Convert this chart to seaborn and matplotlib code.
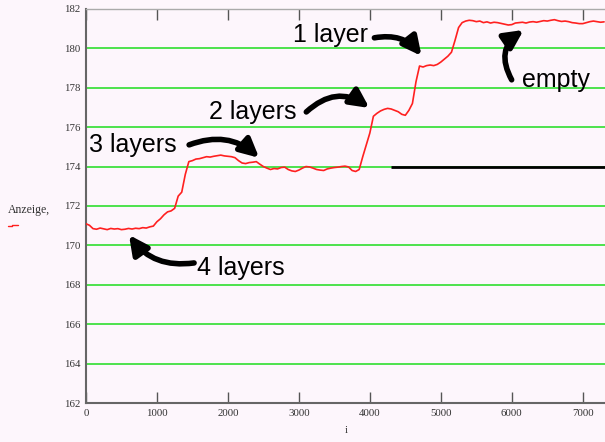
import numpy as np
import pandas as pd
import matplotlib
matplotlib.use("Agg")
import matplotlib.pyplot as plt
from matplotlib.lines import Line2D
import seaborn as sns

# Sample index (every 50 samples) and displayed reading
sample_i = np.arange(0, 7301, 50)
anzeige = [
    171.10, 171.02, 170.85, 170.82, 170.88, 170.84, 170.80, 170.86, 170.83, 170.85,
    170.80, 170.82, 170.86, 170.83, 170.87, 170.85, 170.90, 170.88, 170.94, 170.98,
    171.20, 171.35, 171.55, 171.70, 171.75, 171.88, 172.50, 172.70, 173.60, 174.25,
    174.30, 174.38, 174.40, 174.45, 174.50, 174.48, 174.52, 174.55, 174.58, 174.54,
    174.52, 174.50, 174.45, 174.30, 174.18, 174.15, 174.20, 174.22, 174.25, 174.12,
    174.00, 173.92, 173.85, 173.90, 173.88, 173.95, 173.97, 173.85, 173.78, 173.75,
    173.82, 173.92, 174.00, 173.98, 173.92, 173.85, 173.82, 173.80, 173.88, 173.92,
    173.95, 173.97, 174.00, 174.02, 173.98, 173.80, 173.75, 173.85, 174.50, 175.10,
    175.70, 176.55, 176.70, 176.82, 176.90, 176.95, 176.92, 176.85, 176.78, 176.65,
    176.60, 176.85, 177.20, 178.30, 179.10, 179.05, 179.12, 179.15, 179.12, 179.18,
    179.30, 179.45, 179.60, 179.80, 180.40, 181.05, 181.30, 181.38, 181.42, 181.40,
    181.35, 181.38, 181.30, 181.34, 181.28, 181.32, 181.30, 181.26, 181.22, 181.18,
    181.20, 181.28, 181.30, 181.32, 181.28, 181.33, 181.35, 181.32, 181.36, 181.40,
    181.38, 181.42, 181.45, 181.40, 181.36, 181.38, 181.35, 181.30, 181.28, 181.25,
    181.25, 181.30, 181.35, 181.38, 181.35, 181.32, 181.34,
]

y_ticks = list(range(162, 183, 2))
x_ticks = list(range(0, 7001, 1000))
grid_levels = list(range(164, 181, 2))
reference_level = 174.0
reference_start = 4300

# Annotations: label, label position, arrow tail, arrow tip, curvature
labels = ["1 layer", "2 layers", "3 layers", "4 layers", "empty"]
label_pos = [(2921, 180.68), (1736, 176.77), (42, 175.10), (1566, 168.85), (6140, 178.40)]
arrow_tail = [(4064, 180.53), (3105, 176.77), (1454, 175.10), (1524, 169.11), (5998, 178.40)]
arrow_tip = [(4728, 179.61), (3994, 176.97), (2441, 174.44), (607, 170.53), (6167, 180.93)]
arrow_rad = [-0.3, -0.4, -0.3, -0.3, -0.45]

sns.set_theme(style="white")
bg = "#fdf6fc"
plt.rcParams["font.family"] = ["Liberation Sans", "DejaVu Sans"]
plt.rcParams["text.color"] = "black"
plt.rcParams["xtick.color"] = "#333333"
plt.rcParams["ytick.color"] = "#333333"

fig = plt.figure(figsize=(6.05, 4.42), dpi=100, facecolor=bg)
ax = fig.add_axes([0.142, 0.088, 0.860, 0.892], facecolor=bg)

for lvl in grid_levels:
    ax.axhline(lvl, color="#3fe03f", lw=1.3, zorder=1)

ax.hlines(reference_level, reference_start, 7400, color="black", lw=2, zorder=2)

df = pd.DataFrame({"i": sample_i, "Anzeige": anzeige})
sns.lineplot(data=df, x="i", y="Anzeige", ax=ax, color="#ff2020", lw=1.2, zorder=3)

ax.set_xlim(0, 7330)
ax.set_ylim(162, 182)
ax.set_xticks(x_ticks)
ax.set_yticks(y_ticks)
ax.set_xticklabels([str(v) for v in x_ticks], family="Liberation Serif", fontsize=7.8)
ax.set_yticklabels([str(v) for v in y_ticks], family="Liberation Serif", fontsize=7.8)
ax.tick_params(axis="x", direction="in", length=8, width=1, color="#555555",
               top=True, bottom=True, pad=4)
ax.tick_params(axis="y", length=0, pad=4)
ax.set_xlabel("i", family="Liberation Serif", fontsize=8, labelpad=6, color="#333333")
ax.set_ylabel("")

for side in ["left", "bottom"]:
    ax.spines[side].set_color("#666666")
    ax.spines[side].set_linewidth(1.5)
ax.spines["top"].set_color("#aaaaaa")
ax.spines["top"].set_linewidth(1.0)
ax.spines["right"].set_visible(False)

for txt, pos, tail, tip, rad in zip(labels, label_pos, arrow_tail, arrow_tip, arrow_rad):
    ax.text(pos[0], pos[1], txt, fontsize=18, va="center", ha="left",
            color="black", zorder=5)
    ax.annotate("", xy=tip, xytext=tail,
                arrowprops=dict(arrowstyle="-|>", connectionstyle=f"arc3,rad={rad}",
                                lw=4, color="black", mutation_scale=28,
                                shrinkA=0, shrinkB=0),
                zorder=5)

# Series name and its line sample at the left
fig.text(0.013, 0.525, "Anzeige,", family="Liberation Serif", fontsize=8.5,
         va="center", ha="left", color="#333333")
fig.add_artist(Line2D([0.013, 0.020, 0.020, 0.030], [0.488, 0.488, 0.492, 0.492],
                      transform=fig.transFigure, color="#ff2020", lw=1))

fig.savefig("out.png", dpi=100, facecolor=bg)
